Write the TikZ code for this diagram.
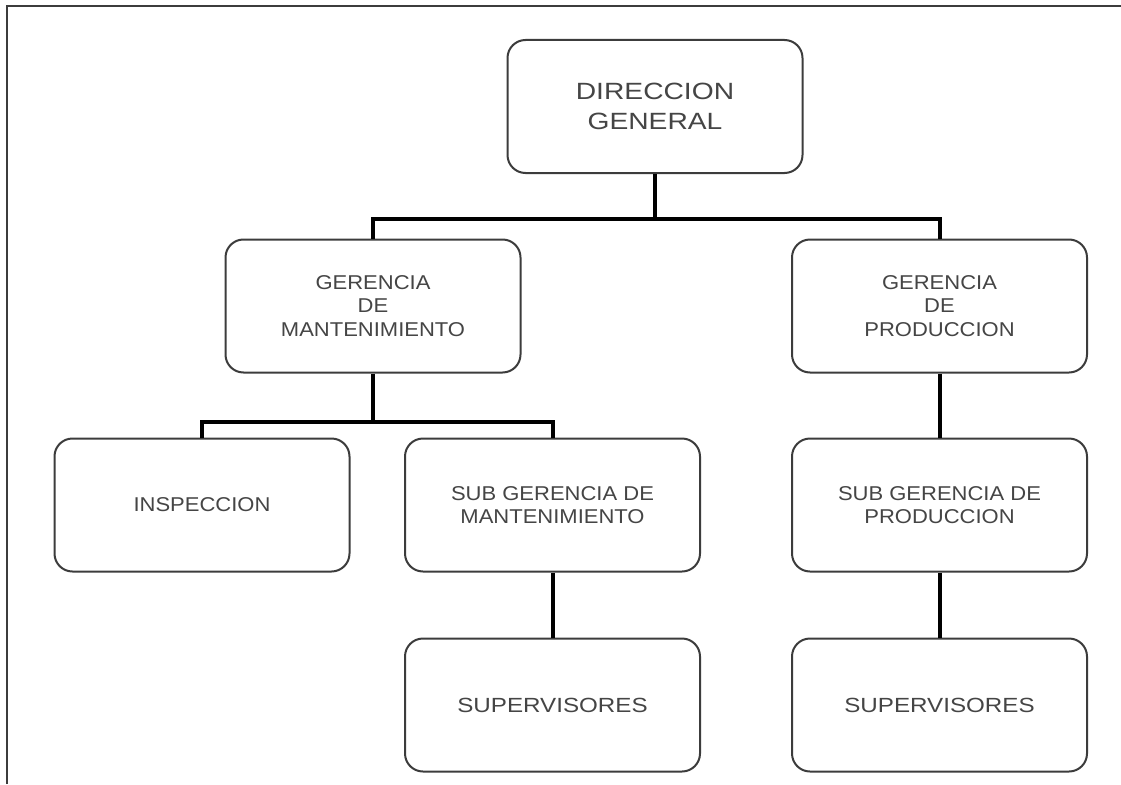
\documentclass[tikz,border=0pt]{standalone}
\usepackage{fontspec}
\newfontfamily\boxfont[FakeStretch=1.1]{Liberation Sans}
\newfontfamily\widefont[FakeStretch=1.18]{Liberation Sans}
\newfontfamily\titlefont[FakeStretch=1.2]{Liberation Sans}
\definecolor{edgegray}{HTML}{3C3C3C}
\definecolor{textgray}{HTML}{454545}
\begin{document}
\begin{tikzpicture}[x=1pt,y=-1pt,
  unit/.style={draw=edgegray, line width=2pt, rounded corners=18pt,
    minimum width=295pt, minimum height=133pt, inner sep=0pt,
    align=center, text=textgray,
    font=\boxfont\fontsize{20}{23.5}\selectfont},
  conn/.style={draw=black, line width=4pt}]
  % page area and frame
  \useasboundingbox (0,0) rectangle (1121,784);
  \fill[white] (0,0) rectangle (1121,784);
  \draw[edgegray, line width=1.6pt] (7,784) -- (7,6) -- (1121,6);

  % units
  \node[unit, font=\titlefont\fontsize{23.5}{29.5}\selectfont] (dg) at (655,106.5) {DIRECCION\\GENERAL};
  \node[unit] (gm) at (373,306) {GERENCIA\\DE\\MANTENIMIENTO};
  \node[unit] (gp) at (939.5,306) {GERENCIA\\DE\\PRODUCCION};
  \node[unit] (insp) at (202,505) {INSPECCION};
  \node[unit] (sgm) at (552.5,505) {SUB GERENCIA DE\\MANTENIMIENTO};
  \node[unit] (sgp) at (939.5,505) {SUB GERENCIA DE\\PRODUCCION};
  \node[unit, font=\widefont\fontsize{20.5}{24}\selectfont] (sup1) at (552.5,705) {SUPERVISORES};
  \node[unit, font=\widefont\fontsize{20.5}{24}\selectfont] (sup2) at (939.5,705) {SUPERVISORES};

  % connectors
  \draw[conn] (dg.south) -- ++(0,46) coordinate (busa);
  \draw[conn] (gm.north) -- ++(0,-20) -| (gp.north);
  \draw[conn] (gm.south) -- ++(0,49) coordinate (busb);
  \draw[conn] (insp.north) -- ++(0,-16) -| (sgm.north);
  \draw[conn] (gp.south) -- (sgp.north);
  \draw[conn] (sgm.south) -- (sup1.north);
  \draw[conn] (sgp.south) -- (sup2.north);
\end{tikzpicture}
\end{document}
